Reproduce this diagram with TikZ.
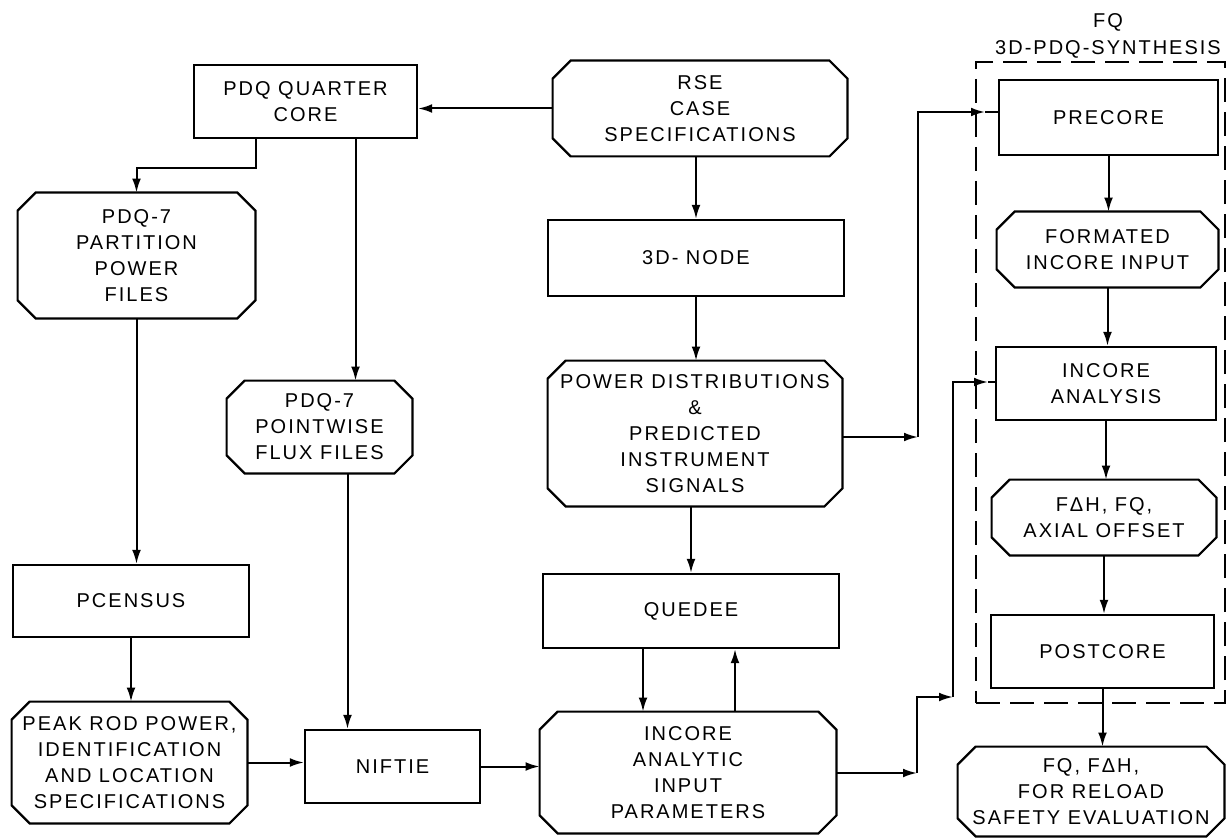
\documentclass[tikz,border=0pt]{standalone}
\usepackage{fontspec}
\setmainfont{Liberation Sans}[LetterSpace=10]
\usepackage{tikz}
\usetikzlibrary{arrows.meta,calc}

\begin{document}
\begin{tikzpicture}[x=0.5pt,y=-0.5pt,
		prog/.style={rectangle,draw,line width=1.1pt,inner sep=0pt,align=center,font=\fontsize{10}{13}\selectfont},
		data/.style={rectangle,inner sep=0pt,align=center,font=\fontsize{10}{13}\selectfont,
			append after command={\pgfextra{\let\octnode\tikzlastnode
				\draw[line width=1.1pt] ([xshift=9pt]\octnode.north west) -- ([xshift=-9pt]\octnode.north east)
					-- ([yshift=-9pt]\octnode.north east) -- ([yshift=9pt]\octnode.south east)
					-- ([xshift=-9pt]\octnode.south east) -- ([xshift=9pt]\octnode.south west)
					-- ([yshift=9pt]\octnode.south west) -- ([yshift=-9pt]\octnode.north west) -- cycle;}}},
		flow/.style={line width=1pt,-{Latex[length=7pt,width=4.4pt]}},
		wire/.style={line width=1pt},
		group/.style={rectangle,draw,line width=1pt,dash pattern=on 12pt off 5pt,inner sep=0pt},
		]
		\useasboundingbox (0,0) rectangle (1227,840);

		\node[group,minimum width=124.5pt,minimum height=320.5pt](synth) at (1100.5,382.5) {};
		\node[align=center,font=\fontsize{10}{13.5}\selectfont](synthlbl) at (1108,36) {FQ\\3D-PDQ-SYNTHESIS};

		\node[prog,minimum width=111.5pt,minimum height=36.5pt](qcore) at (305.5,101.5) {PDQ QUARTER\\CORE};
		\node[data,minimum width=147pt,minimum height=47.5pt](rse) at (700,108.5) {RSE\\CASE\\SPECIFICATIONS};
		\node[prog,minimum width=148pt,minimum height=38pt](node3d) at (696,258) {3D- NODE};
		\node[data,minimum width=147pt,minimum height=72.5pt](pwr) at (695,433.5) {POWER DISTRIBUTIONS\\\&\\PREDICTED\\INSTRUMENT\\SIGNALS};
		\node[prog,minimum width=148pt,minimum height=37pt](quedee) at (691,611) {QUEDEE};
		\node[data,minimum width=148pt,minimum height=60.5pt](incan) at (688,772.5) {INCORE\\ANALYTIC\\INPUT\\PARAMETERS};

		\node[data,minimum width=118.5pt,minimum height=62.5pt](part) at (136.5,255.5) {PDQ-7\\PARTITION\\POWER\\FILES};
		\node[data,minimum width=92.5pt,minimum height=46pt](point) at (319.5,427) {PDQ-7\\POINTWISE\\FLUX FILES};
		\node[prog,minimum width=118pt,minimum height=36pt](pcensus) at (131,601) {PCENSUS};
		\node[data,minimum width=117.5pt,minimum height=60.5pt](peak) at (129.5,762.5) {PEAK ROD POWER,\\IDENTIFICATION\\AND LOCATION\\SPECIFICATIONS};
		\node[prog,minimum width=87.5pt,minimum height=36.5pt](niftie) at (392.5,766.5) {NIFTIE};

		\node[prog,minimum width=109.5pt,minimum height=37.5pt](precore) at (1108.5,117.5) {PRECORE};
		\node[data,minimum width=110.5pt,minimum height=37.5pt](fmt) at (1107.5,249.5) {FORMATED\\INCORE INPUT};
		\node[prog,minimum width=110pt,minimum height=36.5pt](incana) at (1106,383.5) {INCORE\\ANALYSIS};
		\node[data,minimum width=112pt,minimum height=37.5pt](fdh) at (1104,517.5) {FΔH, FQ,\\AXIAL OFFSET};
		\node[prog,minimum width=111.5pt,minimum height=36.5pt](postcore) at (1102.5,651.5) {POSTCORE};
		\node[data,minimum width=133pt,minimum height=44.5pt](final) at (1091,791.5) {FQ, FΔH,\\FOR RELOAD\\SAFETY EVALUATION};

		\coordinate (c1) at (918,437);
		\coordinate (c2) at (985,112);
		\coordinate (c3) at (917,773);
		\coordinate (c4) at (953,697);
		\coordinate (c5) at (988,382);

		\draw[flow] (rse.west) -- (qcore.east |- rse.west);
		\draw[flow] ([xshift=-25pt]qcore.south) -- ++(0,29) -| (part.north);
		\draw[flow] ([xshift=25pt]qcore.south) -- ([xshift=25pt]qcore.south |- point.north);
		\draw[flow] (part.south) -- (part.south |- pcensus.north);
		\draw[flow] (pcensus.south) -- (pcensus.south |- peak.north);
		\draw[flow] ([xshift=14pt]point.south) -- ([xshift=14pt]point.south |- niftie.north);
		\draw[flow] (peak.east) -- (peak.east -| niftie.west);
		\draw[flow] (niftie.east) -- (niftie.east -| incan.west);

		\draw[flow] (node3d.north |- rse.south) -- (node3d.north);
		\draw[flow] (node3d.south) -- (node3d.south |- pwr.north);
		\draw[flow] (quedee.north |- pwr.south) -- (quedee.north);
		\draw[flow] ([xshift=-24pt]quedee.south) -- ([xshift=-24pt]quedee.south |- incan.north);
		\draw[flow] ([xshift=22pt]quedee.south |- incan.north) -- ([xshift=22pt]quedee.south);

		% into the synthesis block
		\draw[flow] (pwr.east |- c1) -- (c1);
		\draw[flow] (c1) |- (c2);
		\draw[wire] (c2) -- (precore.west |- c2);
		\draw[flow] (incan.east |- c3) -- (c3);
		\draw[flow] (c3) |- (c4);
		\draw[flow] (c4) |- (c5);
		\draw[wire] (c5) -- (incana.west |- c5);

		\draw[flow] (precore.south) -- (precore.south |- fmt.north);
		\draw[flow] (fmt.south) -- (fmt.south |- incana.north);
		\draw[flow] (incana.south) -- (incana.south |- fdh.north);
		\draw[flow] (fdh.south) -- (fdh.south |- postcore.north);
		\draw[flow] (postcore.south) -- (postcore.south |- final.north);
	\end{tikzpicture}
\end{document}
